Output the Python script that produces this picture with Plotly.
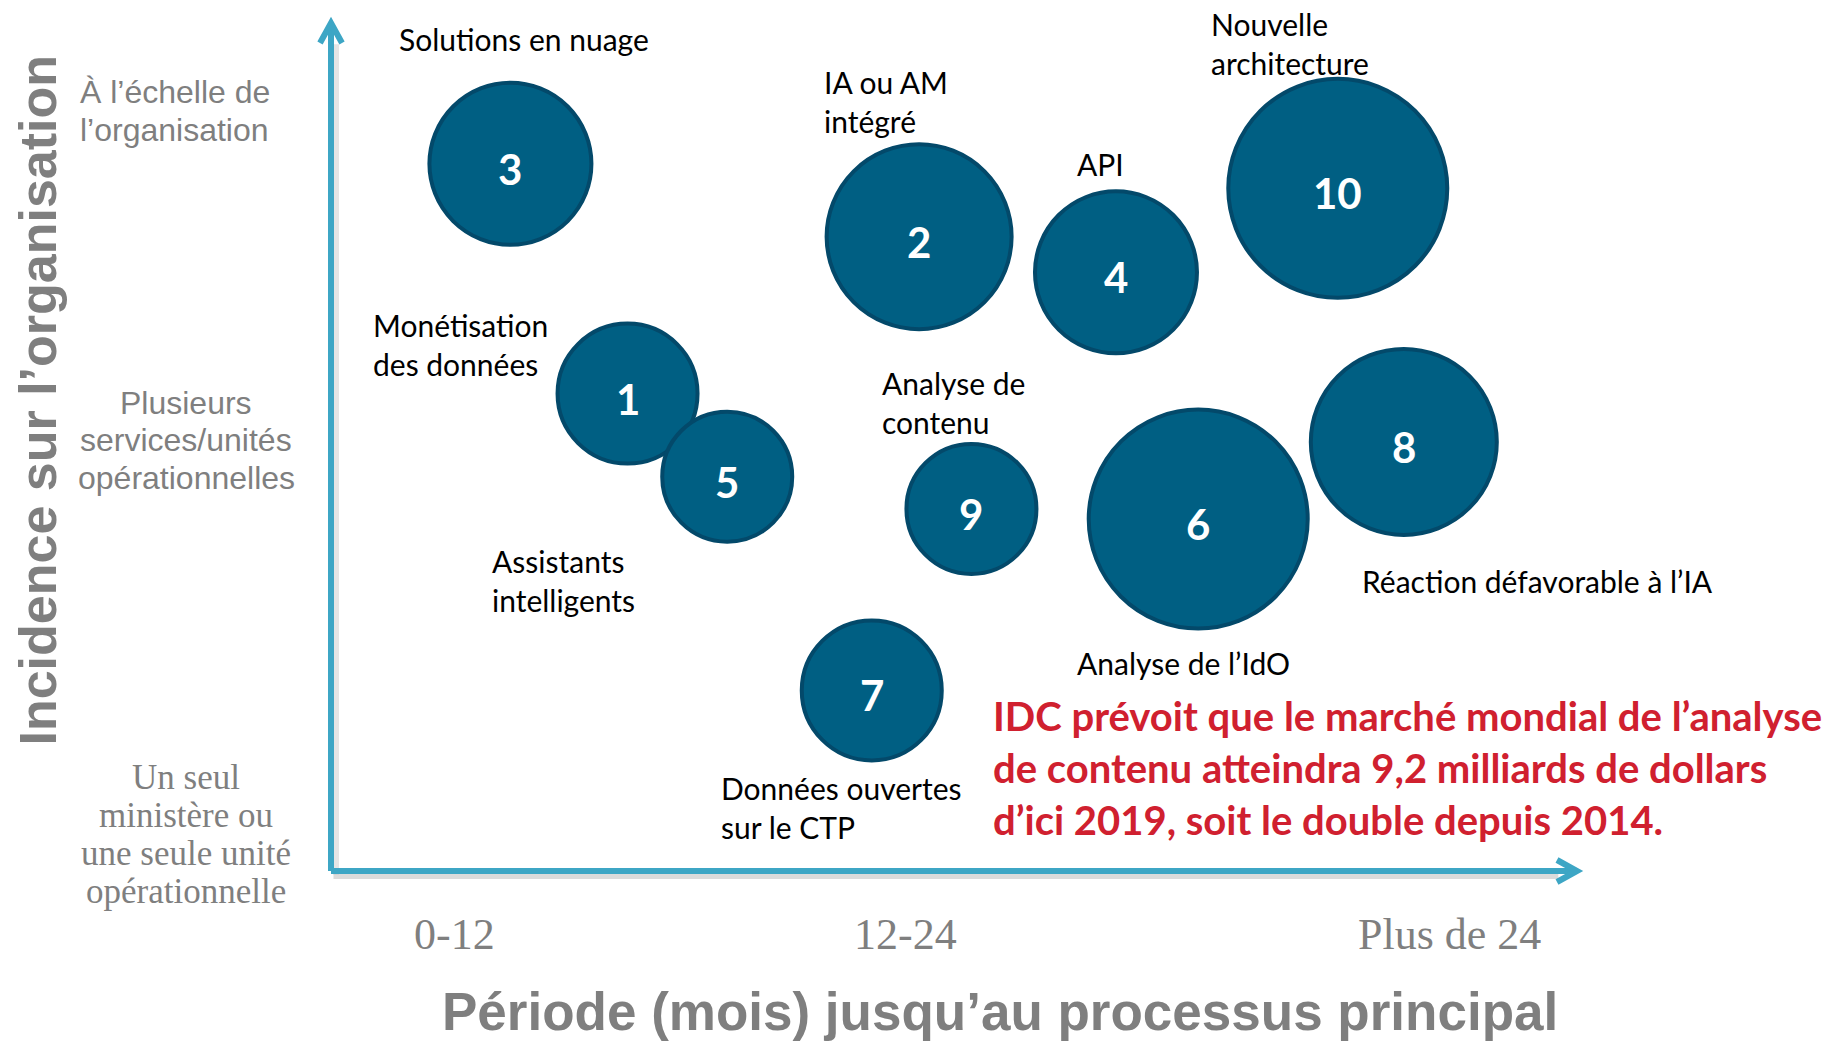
import plotly.graph_objects as go

# ---------------- data ----------------
bubble_ids = ["1", "2", "3", "4", "5", "6", "7", "8", "9", "10"]
# horizontal position: time to mainstream (0-100 scale across the axis)
time_score = [23.8, 47.2, 14.4, 63.0, 31.8, 69.6, 43.4, 86.1, 51.4, 80.8]
# vertical position: organisational impact (0-100 scale)
impact_score = [56.3, 74.8, 83.4, 70.6, 46.5, 41.5, 21.3, 50.6, 42.7, 80.5]
# relative bubble magnitude
magnitude = [14.0, 18.5, 16.2, 16.2, 13.0, 21.9, 14.0, 18.6, 13.0, 21.9]

topic_labels = [
    "Solutions en nuage",
    "IA ou AM<br>intégré",
    "API",
    "Nouvelle<br>architecture",
    "Monétisation<br>des données",
    "Analyse de<br>contenu",
    "Assistants<br>intelligents",
    "Réaction défavorable à l’IA",
    "Analyse de l’IdO",
    "Données ouvertes<br>sur le CTP",
]

x_tick_labels = ["0-12", "12-24", "Plus de 24"]
x_tick_pos = [9.9, 46.1, 89.8]

y_tick_labels = [
    "Un seul<br>ministère ou<br>une seule unité<br>opérationnelle",
    "Plusieurs<br>services/unités<br>opérationnelles",
    "À l’échelle de<br>l’organisation",
]
y_tick_pos = [4.3, 50.8, 89.6]

x_title = "Période (mois) jusqu’au processus principal"
y_title = "Incidence sur l’organisation"
note_text = ("IDC prévoit que le marché mondial de l’analyse<br>"
             "de contenu atteindra 9,2 milliards de dollars<br>"
             "d’ici 2019, soit le double depuis 2014.")

# ---------------- layout / styles ----------------
# label anchor positions in paper fractions of the plotting area
label_pos_x = [0.053, 0.394, 0.597, 0.705, 0.032, 0.441, 0.128, 0.826, 0.597, 0.311]
label_pos_y = [0.981, 0.907, 0.834, 0.976, 0.621, 0.552, 0.342, 0.342, 0.245, 0.075]

AXIS_COLOR = "#3DA6C5"
BUBBLE_FILL = "#005F83"
BUBBLE_EDGE = "#03496A"
GREY = "#7F7F7F"
RED = "#D0202F"
LABEL_FONT = "Lato"

fig = go.Figure()

fig.add_trace(go.Scatter(
    x=time_score, y=impact_score,
    mode="markers",
    marker=dict(size=magnitude, sizemode="diameter", sizeref=0.1,
                color=BUBBLE_FILL, opacity=1,
                line=dict(color=BUBBLE_EDGE, width=4)),
    hoverinfo="skip",
    cliponaxis=False,
    showlegend=False,
))

annotations = []
# bubble numbers
for bid, bx, by in zip(bubble_ids, time_score, impact_score):
    annotations.append(dict(
        x=bx, y=by, xref="x", yref="y", text=bid, showarrow=False,
        xanchor="center", yanchor="middle", yshift=-5,
        font=dict(family=LABEL_FONT, size=42, color="white", weight="bold")))

for txt, lx, ly in zip(topic_labels, label_pos_x, label_pos_y):
    annotations.append(dict(
        x=lx, y=ly, xref="paper", yref="paper", text=txt, showarrow=False,
        xanchor="left", yanchor="middle", align="left",
        font=dict(family=LABEL_FONT, size=30, color="black")))

annotations.append(dict(
    x=0.530, y=0.121, xref="paper", yref="paper", text=note_text, showarrow=False,
    xanchor="left", yanchor="middle", align="left",
    font=dict(family=LABEL_FONT, size=40, color=RED, weight="bold")))

# x tick labels (placed along the x axis)
for txt, tx in zip(x_tick_labels, x_tick_pos):
    annotations.append(dict(
        x=tx, y=-0.075, xref="x", yref="paper", text=txt, showarrow=False,
        xanchor="center", yanchor="middle",
        font=dict(family="Liberation Serif", size=44, color=GREY)))


def multiline(text, x, y, xanchor, font, line_px):
    """Place each line separately so the line spacing matches the reference."""
    lines = text.split("<br>")
    n = len(lines)
    for i, ln in enumerate(lines):
        annotations.append(dict(
            x=x, y=y, xref="paper", yref="y", text=ln, showarrow=False,
            xanchor=xanchor, yanchor="middle",
            yshift=-(i - (n - 1) / 2) * line_px, font=font))


multiline(y_tick_labels[0], -0.116, y_tick_pos[0], "center",
          dict(family="Liberation Serif", size=35, color=GREY), 38.3)
multiline(y_tick_labels[1], -0.116, y_tick_pos[1], "center",
          dict(family="Liberation Sans", size=32, color=GREY), 37.5)
multiline(y_tick_labels[2], -0.203, y_tick_pos[2], "left",
          dict(family="Liberation Sans", size=32, color=GREY), 37.5)

# axis titles
annotations.append(dict(
    x=0.537, y=-0.166, xref="paper", yref="paper", text=x_title, showarrow=False,
    xanchor="center", yanchor="middle",
    font=dict(family="Liberation Sans", size=53, color=GREY, weight="bold")))
annotations.append(dict(
    x=-0.235, y=0.555, xref="paper", yref="paper", text=y_title, showarrow=False,
    textangle=-90, xanchor="center", yanchor="middle",
    font=dict(family="Liberation Sans", size=52, color=GREY, weight="bold")))

shapes = []
# soft shadows
shapes.append(dict(type="line", xref="paper", yref="paper", x0=0.002, x1=0.985,
                   y0=-0.006, y1=-0.006, line=dict(color="#9A9A9A", width=6),
                   opacity=0.35, layer="below"))
shapes.append(dict(type="line", xref="paper", yref="paper", x0=0.004, x1=0.004,
                   y0=-0.004, y1=0.975, line=dict(color="#9A9A9A", width=6),
                   opacity=0.25, layer="below"))
# axes
shapes.append(dict(type="line", xref="paper", yref="paper", x0=0, x1=1, y0=0, y1=0,
                   line=dict(color=AXIS_COLOR, width=6), layer="below"))
shapes.append(dict(type="line", xref="paper", yref="paper", x0=0, x1=0, y0=0, y1=1,
                   line=dict(color=AXIS_COLOR, width=6), layer="below"))
# arrow heads
shapes.append(dict(type="path", xref="paper", yref="paper",
                   xsizemode="pixel", ysizemode="pixel", xanchor=0, yanchor=1,
                   path="M -11,-20 L 0,0 L 11,-20",
                   line=dict(color=AXIS_COLOR, width=6), layer="below"))
shapes.append(dict(type="path", xref="paper", yref="paper",
                   xsizemode="pixel", ysizemode="pixel", xanchor=1, yanchor=0,
                   path="M -20,11 L 0,0 L -20,-11",
                   line=dict(color=AXIS_COLOR, width=6), layer="below"))

# the page body adds an 8px offset; compensate so the plot lands where intended
fig.update_layout(
    width=1825, height=1033,
    margin=dict(l=323, r=256, t=15, b=170),
    paper_bgcolor="white", plot_bgcolor="white",
    xaxis=dict(range=[0, 100], visible=False, fixedrange=True),
    yaxis=dict(range=[0, 100], visible=False, fixedrange=True),
    annotations=annotations,
    shapes=shapes,
    showlegend=False,
)

fig.write_html("out.html")
